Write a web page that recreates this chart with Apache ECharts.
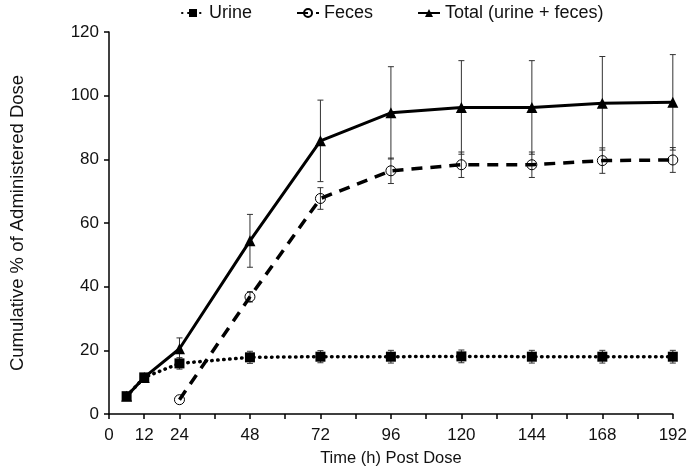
<!DOCTYPE html>
<html>
<head>
<meta charset="utf-8">
<script src="https://cdn.jsdelivr.net/npm/echarts@6/dist/echarts.min.js"></script>
<style>
  html, body { margin: 0; padding: 0; background: #fff; }
  #main { width: 690px; height: 472px; }
</style>
</head>
<body>
<div id="main"></div>
<script>
// time points (h)
var times = [6, 12, 24, 48, 72, 96, 120, 144, 168, 192];
var fecesTimes = [24, 48, 72, 96, 120, 144, 168, 192];

// mean cumulative % and SD
var urine = [5.6, 11.5, 15.9, 17.8, 18.0, 18.0, 18.1, 18.0, 18.0, 18.0];
var urineSd = [0, 0, 1.8, 1.9, 1.9, 2.0, 2.0, 2.0, 2.0, 2.0];
var feces = [4.5, 36.8, 67.7, 76.4, 78.3, 78.3, 79.6, 79.8];
var fecesSd = [0, 1.6, 3.4, 4.0, 4.0, 4.0, 4.0, 3.9];
var total = [5.6, 11.5, 20.5, 54.4, 85.8, 94.6, 96.3, 96.3, 97.6, 97.9];
var totalSd = [0, 0, 3.4, 8.3, 12.8, 14.5, 14.7, 14.7, 14.7, 15.0];

var seriesNames = ['Urine', 'Feces', 'Total (urine + feces)'];

function pairs(xs, ys) {
    return xs.map(function (x, i) { return [x, ys[i]]; });
}
function errData(xs, ys, sd) {
    var out = [];
    xs.forEach(function (x, i) {
        if (sd[i] > 0) out.push([x, ys[i] - sd[i], ys[i] + sd[i]]);
    });
    return out;
}
// vertical error bar with caps
function renderErr(params, api) {
    var lo = api.coord([api.value(0), api.value(1)]);
    var hi = api.coord([api.value(0), api.value(2)]);
    var w = 3;
    var st = { stroke: '#333', lineWidth: 1 };
    return {
        type: 'group',
        children: [
            { type: 'line', shape: { x1: lo[0], y1: lo[1], x2: hi[0], y2: hi[1] }, style: st },
            { type: 'line', shape: { x1: lo[0] - w, y1: lo[1], x2: lo[0] + w, y2: lo[1] }, style: st },
            { type: 'line', shape: { x1: hi[0] - w, y1: hi[1], x2: hi[0] + w, y2: hi[1] }, style: st }
        ]
    };
}
function errSeries(data) {
    return {
        type: 'custom', renderItem: renderErr, data: data, z: 1,
        encode: { x: 0, y: [1, 2] }, silent: true
    };
}

var font = 'Liberation Sans, Arial, sans-serif';
var chart = echarts.init(document.getElementById('main'));
chart.setOption({
    animation: false,
    textStyle: { fontFamily: font },
    legend: {
        top: -1, left: 176, itemWidth: 22, itemHeight: 10, itemGap: 44,
        textStyle: { fontSize: 18, color: '#111', fontFamily: font },
        data: seriesNames
    },
    grid: { left: 106, right: 13, top: 32, bottom: 57 },
    xAxis: {
        type: 'value', min: 0, max: 192, interval: 12,
        name: 'Time (h) Post Dose', nameLocation: 'middle', nameGap: 36,
        nameTextStyle: { fontSize: 16.5, color: '#111' },
        axisLine: { lineStyle: { color: '#000', width: 1.5 } },
        axisTick: { show: true, length: 5, lineStyle: { color: '#000', width: 1.5 } },
        axisLabel: {
            fontSize: 17, color: '#111', margin: 13,
            formatter: function (v) { return (v <= 24 || v % 24 === 0) ? v : ''; }
        },
        splitLine: { show: false }
    },
    yAxis: {
        type: 'value', min: 0, max: 120, interval: 20,
        name: 'Cumulative % of Administered Dose', nameLocation: 'middle', nameGap: 82,
        nameTextStyle: { fontSize: 18.5, color: '#111' },
        axisLine: { show: true, lineStyle: { color: '#000', width: 1.5 } },
        axisTick: { show: true, length: 5, lineStyle: { color: '#000', width: 1.5 } },
        axisLabel: { fontSize: 17, color: '#111', margin: 10 },
        splitLine: { show: false }
    },
    series: [
        errSeries(errData(times, total, totalSd)),
        errSeries(errData(fecesTimes, feces, fecesSd)),
        errSeries(errData(times, urine, urineSd)),
        {
            name: seriesNames[2], type: 'line', data: pairs(times, total), z: 3,
            symbol: 'triangle', symbolSize: 11,
            lineStyle: { color: '#000', width: 3, type: 'solid' },
            itemStyle: { color: '#000', borderWidth: 0 }
        },
        {
            name: seriesNames[1], type: 'line', data: pairs(fecesTimes, feces), z: 4,
            symbol: 'circle', symbolSize: 10, showAllSymbol: true,
            lineStyle: { color: '#000', width: 3.5, type: [11, 8] },
            itemStyle: { color: 'rgba(255,255,255,0)', borderColor: '#000', borderWidth: 1 }
        },
        {
            name: seriesNames[0], type: 'line', data: pairs(times, urine), z: 5,
            symbol: 'rect', symbolSize: 10,
            lineStyle: { color: '#000', width: 3.5, type: [0.5, 5.5], cap: 'round' },
            itemStyle: { color: '#000', borderWidth: 0 }
        }
    ]
});
</script>
</body>
</html>
